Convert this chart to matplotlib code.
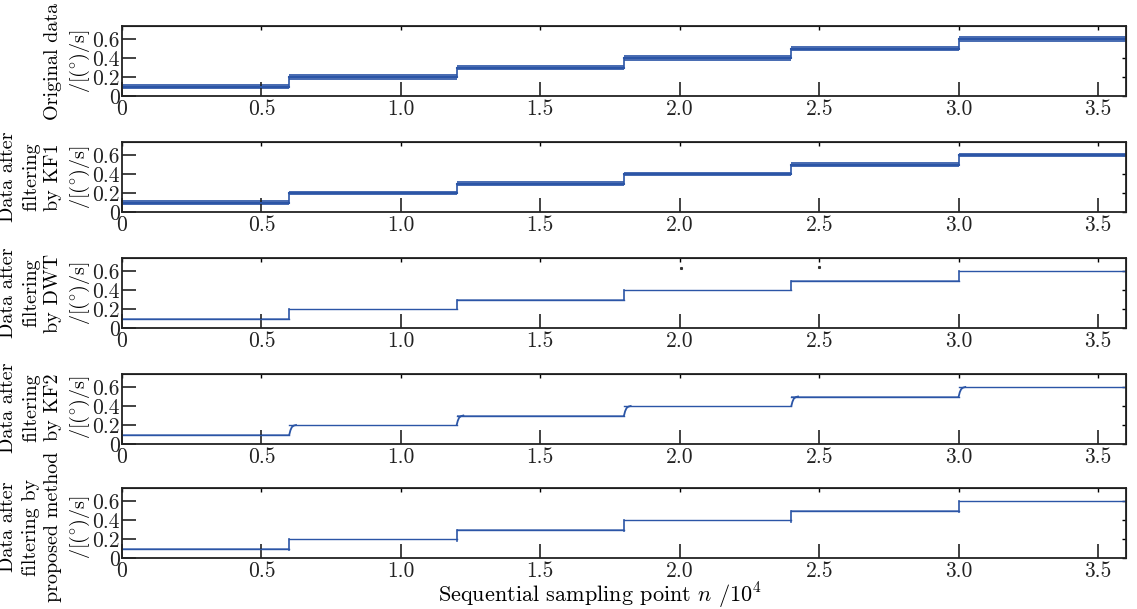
import matplotlib
matplotlib.use("Agg")
import matplotlib.pyplot as plt
import numpy as np

plt.rcParams['font.family'] = ['cmr10', 'DejaVu Serif']
plt.rcParams['mathtext.fontset'] = 'cm'
plt.rcParams['axes.formatter.use_mathtext'] = True

# step levels of the input rate, one per segment (deg/s)
levels = [0.1, 0.2, 0.3, 0.4, 0.5, 0.6]
# segment boundaries in units of 10^4 samples
edges = [0.0, 0.6, 1.2, 1.8, 2.4, 3.0, 3.6]

unit = "/[$(^{\\circ})$/s]"
panel_labels = [
    "Original data\n" + unit,
    "Data after\nfiltering\nby KF1\n" + unit,
    "Data after\nfiltering\nby DWT\n" + unit,
    "Data after\nfiltering\nby KF2\n" + unit,
    "Data after\nfiltering by\nproposed method\n" + unit,
]
label_y = [0.5, 0.5, 0.5, 0.52, 0.44]
# half width of the noise band seen in each panel
noise_hw = [0.027, 0.026, 0.005, 0.004, 0.004]
# KF2 lag at each step: offsets (10^4) and fraction of the jump reached
kf2_dx = [0.0, 0.004, 0.009, 0.016, 0.024]
kf2_frac = [0.0, 0.45, 0.78, 0.94, 1.0]
# undershoot right before each jump in the proposed-method output
prop_dip = 0.02
# stray points in the DWT output
dwt_out_x = [2.003, 2.498]
dwt_out_y = [0.635, 0.64]

xticks = [0, 0.5, 1.0, 1.5, 2.0, 2.5, 3.0, 3.5]
xticklabels = ["0", "0.5", "1.0", "1.5", "2.0", "2.5", "3.0", "3.5"]
yticks = [0, 0.2, 0.4, 0.6]
yticklabels = ["0", "0.2", "0.4", "0.6"]

color = "#2b55a6"
fs = 14.5

fig = plt.figure(figsize=(11.37, 6.09), dpi=100)
tops = [26, 142, 258, 374, 488]
for k in range(5):
    ax = fig.add_axes([122 / 1137, 1 - (tops[k] + 70) / 609, 1004 / 1137, 70 / 609])
    hw = noise_hw[k]
    for i, lev in enumerate(levels):
        x0, x1 = edges[i], edges[i + 1]
        ax.fill_between([x0, x1], [lev - hw, lev - hw], [lev + hw, lev + hw],
                        color=color, lw=0, alpha=0.85 if k < 2 else 0.6)
        ax.plot([x0, x1], [lev, lev], color=color, lw=1.5 if k < 2 else 1.0)
        if i + 1 < len(levels):
            nxt = levels[i + 1]
            if k == 3:
                xs = [x1 + d for d in kf2_dx]
                ys = [lev + f * (nxt - lev) for f in kf2_frac]
                ax.plot(xs, ys, color=color, lw=1.3)
            elif k == 4:
                ax.plot([x1, x1], [lev - prop_dip, nxt], color=color, lw=1.2)
            else:
                ax.plot([x1, x1], [lev, nxt], color=color, lw=1.2)
    if k == 2:
        ax.plot(dwt_out_x, dwt_out_y, ls="none", marker="s", ms=1.2, color="#333333")

    ax.set_xlim(0, 3.6)
    ax.set_ylim(0, 0.737)
    ax.set_xticks(xticks)
    ax.set_xticklabels(xticklabels)
    ax.set_yticks(yticks)
    ax.set_yticklabels(yticklabels)
    ax.tick_params(direction="in", length=10, width=1.2, labelsize=15.5, pad=2.5,
                   colors="#222222")
    ax.tick_params(axis="y", pad=1.5)
    for s in ax.spines.values():
        s.set_linewidth(1.3)
        s.set_color("#222222")
    top = ax.secondary_xaxis("top")
    top.set_xticks(xticks)
    top.tick_params(direction="in", length=3, width=1, labeltop=False)
    right = ax.secondary_yaxis("right")
    right.set_yticks(yticks)
    right.tick_params(direction="in", length=3, width=1, labelright=False)

    ax.set_ylabel(panel_labels[k], fontsize=fs, linespacing=1.32)
    ax.yaxis.set_label_coords(-0.03, label_y[k])

    if k == 4:
        ax.set_xlabel("Sequential sampling point $n$ /$10^4$", fontsize=16, labelpad=0)
        ax.xaxis.set_label_coords(0.476, -0.33)

fig.savefig("out.png", dpi=100)
